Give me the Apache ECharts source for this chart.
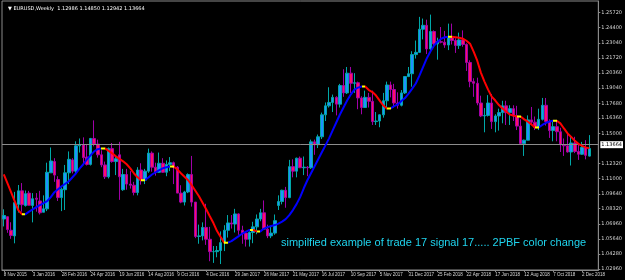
<!DOCTYPE html>
<html><head><meta charset="utf-8">
<script src="https://cdn.jsdelivr.net/npm/echarts@6/dist/echarts.min.js"></script>
<style>html,body{margin:0;padding:0;background:#000}#c{width:625px;height:280px}</style>
</head><body><div id="c"></div>
<script>
const symbolName = 'EURUSD,Weekly';
const startDate = [2015, 10, 8]; // 8 Nov 2015, weekly bars
const dateLabels = ['8 Nov 2015','3 Jan 2016','28 Feb 2016','24 Apr 2016','19 Jun 2016','14 Aug 2016','9 Oct 2016','4 Dec 2016','29 Jan 2017','26 Mar 2017','21 May 2017','16 Jul 2017','10 Sep 2017','5 Nov 2017','31 Dec 2017','25 Feb 2018','22 Apr 2018','17 Jun 2018','12 Aug 2018','7 Oct 2018','2 Dec 2018'];
const priceLabels = [1.2572,1.2440,1.2304,1.2172,1.2036,1.1904,1.1768,1.1636,1.1500,1.1232,1.1100,1.0964,1.0832,1.0696,1.0564,1.0428,1.0296];
const currentPrice = 1.13664;
const note = 'simpilfied example of trade 17 signal 17..... 2PBF color change';

const opens = [1.0740,1.0760,1.0640,1.0590,1.0870,1.0990,1.0860,1.0970,1.0860,1.0925,1.0900,1.0800,1.0830,1.1150,1.1250,1.1090,1.0930,1.1000,1.1150,1.1265,1.1165,1.1390,1.1400,1.1290,1.1225,1.1455,1.1405,1.1310,1.1220,1.1115,1.1365,1.1250,1.1310,1.1000,1.1135,1.1050,1.1040,1.0975,1.1175,1.1085,1.1165,1.1325,1.1200,1.1155,1.1235,1.1155,1.1225,1.1240,1.1200,1.0970,1.0890,1.0980,1.1135,1.0890,1.0585,1.0590,1.0665,1.0560,1.0450,1.0450,1.0460,1.0530,1.0640,1.0705,1.0695,1.0785,1.0640,1.0615,1.0560,1.0620,1.0670,1.0740,1.0795,1.0650,1.0590,1.0615,1.0860,1.0895,1.0995,1.0930,1.1205,1.1165,1.1280,1.1195,1.1200,1.1195,1.1425,1.1400,1.1470,1.1665,1.1745,1.1775,1.1820,1.1760,1.1925,1.1860,1.2035,1.1945,1.1950,1.1815,1.1730,1.1820,1.1785,1.1605,1.1610,1.1665,1.1790,1.1930,1.1890,1.1770,1.1750,1.1860,1.2005,1.2030,1.2200,1.2220,1.2425,1.2460,1.2250,1.2405,1.2295,1.2315,1.2310,1.2285,1.2350,1.2325,1.2280,1.2330,1.2290,1.2130,1.1960,1.1945,1.1770,1.1655,1.1660,1.1770,1.1605,1.1655,1.1685,1.1745,1.1685,1.1720,1.1655,1.1565,1.1410,1.1440,1.1620,1.1600,1.1555,1.1625,1.1750,1.1605,1.1525,1.1560,1.1515,1.1400,1.1390,1.1335,1.1415,1.1340,1.1315,1.1375,1.12986];
const highs = [1.0826,1.0762,1.0711,1.0981,1.1042,1.1059,1.0993,1.0990,1.0970,1.0970,1.0990,1.0950,1.1240,1.1375,1.1280,1.1120,1.1020,1.1220,1.1340,1.1280,1.1430,1.1455,1.1465,1.1400,1.1460,1.1616,1.1445,1.1350,1.1250,1.1375,1.1415,1.1300,1.1425,1.1185,1.1185,1.1165,1.1070,1.1200,1.1235,1.1185,1.1365,1.1340,1.1240,1.1330,1.1280,1.1260,1.1290,1.1250,1.1210,1.1040,1.0990,1.1145,1.1300,1.0890,1.0690,1.0710,1.0875,1.0670,1.0500,1.0500,1.0630,1.0685,1.0775,1.0775,1.0830,1.0790,1.0680,1.0620,1.0630,1.0715,1.0780,1.0830,1.0905,1.0690,1.0680,1.0780,1.0950,1.1000,1.1025,1.1265,1.1270,1.1285,1.1295,1.1295,1.1210,1.1445,1.1445,1.1490,1.1685,1.1775,1.1910,1.1845,1.1830,1.1940,1.2070,1.2090,1.2090,1.2035,1.1960,1.1830,1.1880,1.1860,1.1880,1.1690,1.1670,1.1860,1.1960,1.1960,1.1940,1.1865,1.1885,1.2010,1.2090,1.2230,1.2325,1.2535,1.2520,1.2510,1.2555,1.2415,1.2350,1.2445,1.2410,1.2475,1.2475,1.2345,1.2395,1.2415,1.2300,1.2150,1.1990,1.1995,1.1835,1.1725,1.1840,1.1850,1.1670,1.1720,1.1790,1.1790,1.1750,1.1750,1.1745,1.1625,1.1445,1.1660,1.1735,1.1650,1.1720,1.1815,1.1815,1.1625,1.1610,1.1620,1.1550,1.1455,1.1500,1.1470,1.1470,1.1400,1.1425,1.1440,1.14850];
const lows = [1.0674,1.0617,1.0564,1.0524,1.0797,1.0805,1.0850,1.0862,1.0710,1.0805,1.0780,1.0800,1.0810,1.1150,1.1070,1.0900,1.0810,1.0820,1.1050,1.1145,1.1145,1.1330,1.1235,1.1215,1.1215,1.1385,1.1285,1.1200,1.1095,1.1100,1.1240,1.1130,1.0910,1.0990,1.1000,1.1010,1.0950,1.0950,1.1045,1.1050,1.1150,1.1160,1.1125,1.1150,1.1150,1.1120,1.1165,1.1050,1.0970,1.0880,1.0860,1.0970,1.0850,1.0570,1.0520,1.0550,1.0510,1.0365,1.0350,1.0400,1.0340,1.0455,1.0575,1.0655,1.0620,1.0600,1.0520,1.0495,1.0495,1.0525,1.0605,1.0720,1.0645,1.0570,1.0570,1.0600,1.0820,1.0870,1.0840,1.0925,1.1110,1.1110,1.1195,1.1130,1.1120,1.1185,1.1310,1.1370,1.1450,1.1610,1.1730,1.1690,1.1660,1.1730,1.1825,1.1850,1.1860,1.1860,1.1715,1.1670,1.1730,1.1730,1.1575,1.1575,1.1555,1.1640,1.1715,1.1820,1.1730,1.1720,1.1740,1.1850,1.2000,1.1915,1.2165,1.2215,1.2335,1.2205,1.2235,1.2260,1.2155,1.2300,1.2260,1.2240,1.2290,1.2215,1.2250,1.2270,1.2055,1.1910,1.1825,1.1750,1.1645,1.1510,1.1650,1.1540,1.1510,1.1525,1.1590,1.1575,1.1575,1.1610,1.1530,1.1405,1.1300,1.1440,1.1580,1.1530,1.1530,1.1615,1.1570,1.1460,1.1430,1.1430,1.1335,1.1300,1.1330,1.1215,1.1325,1.1265,1.1310,1.1270,1.12942];
const closes = [1.0771,1.0646,1.0594,1.0885,1.0990,1.0867,1.0965,1.0862,1.0920,1.0915,1.0795,1.0830,1.1155,1.1255,1.1130,1.0930,1.1005,1.1150,1.1270,1.1165,1.1390,1.1400,1.1285,1.1225,1.1455,1.1405,1.1310,1.1220,1.1115,1.1365,1.1250,1.1275,1.1115,1.1135,1.1050,1.1040,1.0975,1.1175,1.1085,1.1165,1.1325,1.1200,1.1155,1.1235,1.1155,1.1225,1.1240,1.1200,1.0970,1.0890,1.0980,1.1135,1.0890,1.0585,1.0590,1.0665,1.0560,1.0450,1.0450,1.0460,1.0530,1.0640,1.0705,1.0695,1.0785,1.0640,1.0615,1.0560,1.0620,1.0670,1.0740,1.0795,1.0650,1.0590,1.0615,1.0725,1.0895,1.0995,1.0930,1.1205,1.1165,1.1280,1.1195,1.1200,1.1195,1.1425,1.1400,1.1470,1.1665,1.1745,1.1775,1.1820,1.1760,1.1925,1.1860,1.2035,1.1945,1.1950,1.1815,1.1730,1.1820,1.1785,1.1605,1.1610,1.1665,1.1790,1.1930,1.1890,1.1770,1.1750,1.1860,1.2005,1.2030,1.2200,1.2220,1.2425,1.2460,1.2250,1.2405,1.2295,1.2315,1.2310,1.2285,1.2350,1.2325,1.2280,1.2330,1.2290,1.2130,1.1960,1.1945,1.1770,1.1655,1.1660,1.1770,1.1605,1.1655,1.1685,1.1745,1.1685,1.1720,1.1655,1.1565,1.1410,1.1440,1.1620,1.1600,1.1555,1.1625,1.1750,1.1605,1.1525,1.1560,1.1515,1.1400,1.1390,1.1335,1.1415,1.1340,1.1315,1.1375,1.1305,1.13664];
const maValues = [1.1137,1.1058,1.0978,1.0898,1.0819,1.0783,1.0783,1.0805,1.0825,1.0845,1.0863,1.0881,1.0898,1.0934,1.0978,1.1004,1.1031,1.1053,1.1075,1.1111,1.1146,1.1190,1.1226,1.1270,1.1305,1.1341,1.1360,1.1367,1.1367,1.1345,1.1323,1.1296,1.1274,1.1252,1.1226,1.1190,1.1146,1.1110,1.1084,1.1084,1.1108,1.1135,1.1155,1.1173,1.1190,1.1199,1.1206,1.1206,1.1181,1.1146,1.1115,1.1084,1.1040,1.0991,1.0942,1.0885,1.0827,1.0765,1.0704,1.0633,1.0580,1.0530,1.0530,1.0544,1.0566,1.0588,1.0611,1.0628,1.0642,1.0642,1.0630,1.0630,1.0655,1.0668,1.0677,1.0686,1.0699,1.0717,1.0739,1.0774,1.0819,1.0872,1.0934,1.1013,1.1084,1.1146,1.1208,1.1270,1.1332,1.1394,1.1456,1.1527,1.1597,1.1668,1.1730,1.1792,1.1845,1.1889,1.1907,1.1916,1.1916,1.1885,1.1867,1.1836,1.1792,1.1748,1.1721,1.1721,1.1743,1.1757,1.1788,1.1814,1.1854,1.1898,1.1943,1.2013,1.2089,1.2164,1.2226,1.2279,1.2314,1.2341,1.2354,1.2358,1.2358,1.2355,1.2350,1.2341,1.2323,1.2297,1.2226,1.2146,1.2040,1.1960,1.1889,1.1827,1.1792,1.1752,1.1721,1.1695,1.1668,1.1658,1.1650,1.1650,1.1625,1.1604,1.1580,1.1553,1.1553,1.1575,1.1593,1.1606,1.1613,1.1613,1.1589,1.1544,1.1500,1.1469,1.1434,1.1407,1.1389,1.1376,1.1367];

const MONTHS = ['Jan','Feb','Mar','Apr','May','Jun','Jul','Aug','Sep','Oct','Nov','Dec'];
const categories = [];
for (let i = 0; i < opens.length; i++) {
  const d = new Date(Date.UTC(startDate[0], startDate[1], startDate[2] + 7 * i));
  categories.push(d.getUTCDate() + ' ' + MONTHS[d.getUTCMonth()] + ' ' + d.getUTCFullYear());
}
categories.push('', ''); // chart shift on the right
const candles = opens.map((o, i) => [o, closes[i], lows[i], highs[i]]);

// MA colour pieces: falling red, rising blue, flat (turn) yellow
const RED = '#ff0000', BLUE = '#0000ff', YEL = '#ffff00';
const pieces = [];
for (let i = 0; i < maValues.length - 1; i++) {
  const d = maValues[i + 1] - maValues[i];
  const c = Math.abs(d) < 1e-9 ? YEL : (d > 0 ? BLUE : RED);
  const last = pieces[pieces.length - 1];
  if (last && last.color === c) last.lte = i + 1;
  else pieces.push({ gt: i, lte: i + 1, color: c });
}
pieces[0].gte = 0; delete pieces[0].gt;

const last = opens.length - 1;
const chart = echarts.init(document.getElementById('c'), null, { renderer: 'canvas' });
chart.setOption({
  backgroundColor: '#000',
  animation: false,
  title: {
    text: '\u25BC ' + symbolName + '  ' + [opens[last], highs[last], lows[last], closes[last]].map(v => v.toFixed(5)).join(' '),
    left: 3, top: 1,
    textStyle: { color: '#ffffff', fontSize: 5, fontWeight: 'normal', fontFamily: 'DejaVu Sans' }
  },
  grid: { left: 2, right: 20, top: 1, bottom: 10, show: true, borderColor: '#8a8a8a', borderWidth: 1, backgroundColor: 'transparent' },
  xAxis: {
    type: 'category', data: categories, boundaryGap: true,
    axisLine: { show: true, lineStyle: { color: '#8a8a8a' } },
    axisTick: { show: true, interval: 7, length: 2, alignWithLabel: true, lineStyle: { color: '#8a8a8a' } },
    axisLabel: { interval: 7, color: '#d8d8d8', fontSize: 4.5, fontFamily: 'Liberation Sans', margin: 2, align: 'left',
      formatter: v => dateLabels.indexOf(v) >= 0 ? v : '' },
    splitLine: { show: false }
  },
  yAxis: {
    type: 'value', position: 'right', scale: true, min: 1.0287, max: 1.2676,
    axisLine: { show: true, lineStyle: { color: '#8a8a8a' } },
    axisTick: { show: true, length: 2, customValues: priceLabels, lineStyle: { color: '#8a8a8a' } },
    axisLabel: { color: '#d8d8d8', fontSize: 5, fontFamily: 'DejaVu Sans', margin: 3, customValues: priceLabels,
      formatter: v => v.toFixed(5) },
    splitLine: { show: false }
  },
  visualMap: { show: false, type: 'piecewise', seriesIndex: 1, dimension: 0, pieces: pieces, outOfRange: { color: RED } },
  series: [
    {
      type: 'candlestick', data: candles, barWidth: 3,
      itemStyle: { color: '#1e90ff', color0: '#ff1068', borderColor: '#00a8a8', borderColor0: '#a000a8', borderWidth: 1 },
      markLine: {
        silent: true, symbol: ['none', 'none'],
        lineStyle: { color: '#8c8c8c', type: 'solid', width: 1 },
        label: { position: 'end', formatter: currentPrice.toFixed(5), color: '#000', backgroundColor: '#ffffff',
          fontSize: 5, fontFamily: 'DejaVu Sans', padding: [1, 1, 1, 1], distance: 2 },
        data: [{ yAxis: currentPrice }]
      }
    },
    {
      type: 'line', data: maValues, symbol: 'none', smooth: false, z: 5,
      lineStyle: { width: 2 }
    }
  ],
  graphic: [{
    type: 'text', left: 281, top: 237, z: 100,
    style: { text: note, fill: '#1fd4ee', font: '11px "Liberation Sans", Arial, sans-serif' }
  }]
});
</script></body></html>
